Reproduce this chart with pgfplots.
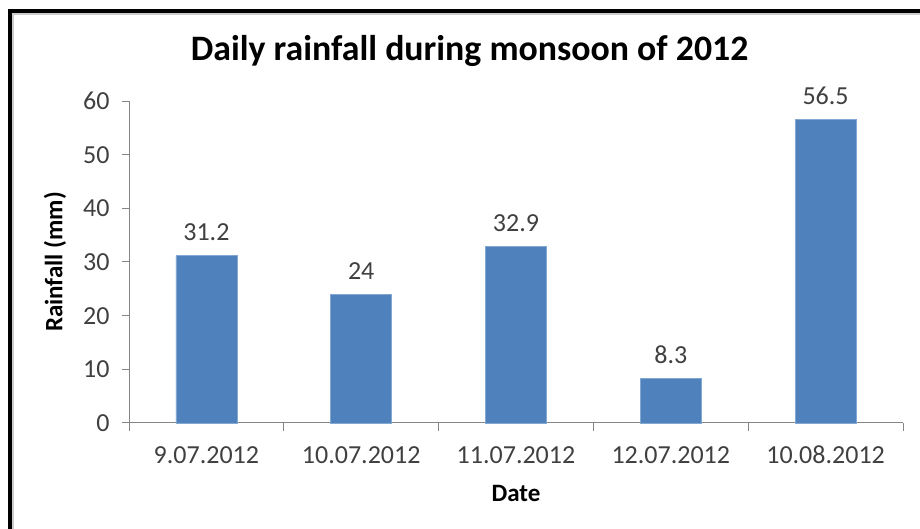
\documentclass[border=0pt]{standalone}
\usepackage{pgfplots}
\pgfplotsset{compat=1.18}
\usepackage{fontspec}
\setmainfont{Carlito}

\definecolor{barblue}{HTML}{4F81BD}
\definecolor{axgray}{HTML}{868686}
\definecolor{txtgray}{HTML}{404040}

\begin{document}
\begin{tikzpicture}
\path[use as bounding box] (0,0) rectangle (920pt,529pt);
\fill[white] (0,0) rectangle (920pt,529pt);
% frame (left and top only)
\draw[gray!40, line width=2pt] (13pt,0) -- (13pt,515pt) -- (920pt,515pt);
\draw[black, line width=4pt] (10pt,0) -- (10pt,518pt) -- (920pt,518pt);

\begin{axis}[
  at={(129pt,106pt)}, anchor=south west,
  scale only axis,
  width=774pt, height=322pt,
  xmin=-0.5, xmax=4.5,
  ymin=0, ymax=60,
  ytick={0,10,...,60},
  xtick={0,1,2,3,4},
  xticklabels={9.07.2012,10.07.2012,11.07.2012,12.07.2012,10.08.2012},
  minor xtick={-0.5,0.5,1.5,2.5,3.5,4.5},
  major x tick style={draw=none},
  axis lines*=left,
  axis line style={draw=axgray, line width=1pt},
  tick style={draw=axgray, line width=1pt},
  tick align=outside,
  major tick length=7pt,
  minor tick length=8pt,
  ticklabel style={font=\fontsize{26}{31}\selectfont, text=txtgray},
  /pgf/number format/assume math mode=true,
  xticklabel style={anchor=base, yshift=-34pt},
  yticklabel style={anchor=east, xshift=-9pt},
  ybar, bar width=61pt,
  nodes near coords,
  every node near coord/.append style={font=\fontsize{26}{31}\selectfont, text=txtgray, anchor=base, inner sep=0pt, yshift=15pt},
  title={\textbf{Daily rainfall during monsoon of 2012}},
  title style={font=\fontsize{35.8}{42}\selectfont, anchor=center, at={(0.44,1.0)}, yshift=44pt},
  xlabel={\textbf{Date}},
  ylabel={\textbf{Rainfall (mm)}},
  label style={font=\fontsize{25}{30}\selectfont, text=black},
  xlabel style={anchor=center, at={(0.5,0)}, yshift=-70pt},
  ylabel style={anchor=center, at={(0,0.5)}, rotate=0, yshift=74pt},
  clip=false,
]
\addplot[fill=barblue, draw=barblue!70!white, line width=0.8pt]
coordinates{
(0,31.2)(1,24)(2,32.9)(3,8.3)(4,56.5)
};
\end{axis}
\end{tikzpicture}
\end{document}
